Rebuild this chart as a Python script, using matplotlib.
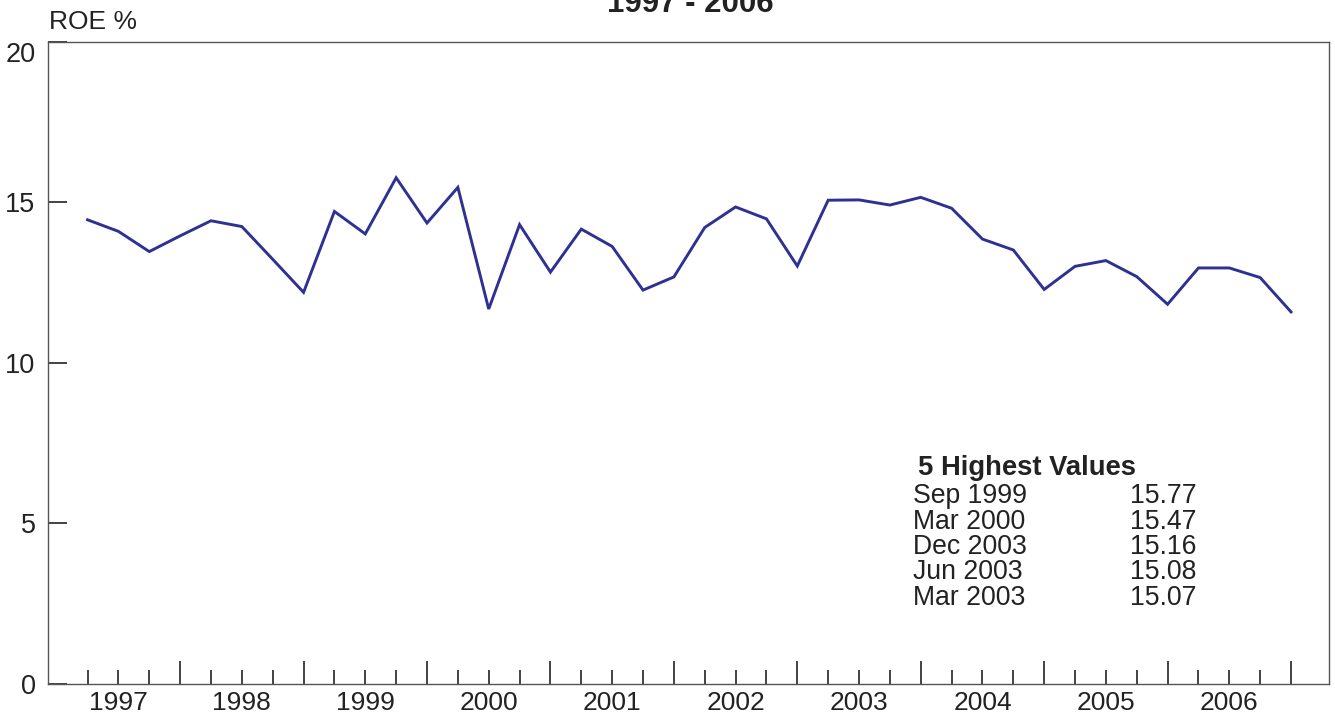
import matplotlib.pyplot as plt

# quarterly ROE, Mar 1997 .. Dec 2006
years = list(range(1997, 2007))
roe = [14.46, 14.10, 13.47, 13.96, 14.43, 14.25, 13.23, 12.20,
       14.72, 14.02, 15.77, 14.36, 15.47, 11.68, 14.31, 12.83,
       14.17, 13.63, 12.27, 12.68, 14.22, 14.86, 14.49, 13.02,
       15.07, 15.08, 14.92, 15.16, 14.82, 13.86, 13.52, 12.29,
       13.01, 13.19, 12.69, 11.83, 12.96, 12.96, 12.66, 11.59]

top_dates = ['Sep 1999', 'Mar 2000', 'Dec 2003', 'Jun 2003', 'Mar 2003']
top_values = ['15.77', '15.47', '15.16', '15.08', '15.07']

plt.rcParams['font.family'] = ['Liberation Sans', 'DejaVu Sans']

fig = plt.figure(figsize=(13.35, 7.15), dpi=100)
ax = fig.add_axes([0.036, 0.0434, 0.9595, 0.8979])

x = list(range(len(roe)))
ax.plot(x, roe, color='#2e3192', linewidth=2.1, solid_joinstyle='miter')

ax.set_xlim(-1.28, 40.23)
ax.set_ylim(0, 20)

# year end ticks tall, other quarters short, year label on the 2nd quarter
major = [i for i in x if i % 4 == 3]
minor = [i for i in x if i % 4 != 3]
ax.set_xticks(major, labels=[''] * len(major))
minor_labels = [str(years[i // 4]) if i % 4 == 1 else '' for i in minor]
ax.set_xticks(minor, labels=minor_labels, minor=True)
ax.tick_params(axis='x', which='major', direction='in', length=16.5, width=1.2, color='#222222')
ax.tick_params(axis='x', which='minor', direction='in', length=10, width=1.2, color='#222222',
               labelsize=19, pad=5, labelcolor='#222222')

ax.set_yticks([0, 5, 10, 15, 20])
ax.tick_params(axis='y', direction='in', length=14, width=1.2, color='#222222',
               labelsize=19.5, pad=9, labelcolor='#222222')
ax.get_yticklabels()[-1].set_va('top')

for s in ax.spines.values():
    s.set_color('#555555')
    s.set_linewidth(1.0)

ax.text(0.001, 1.013, 'ROE %', transform=ax.transAxes, fontsize=19,
        color='#222222', ha='left', va='bottom')

fig.text(0.517, 0.983, '1997 - 2006', fontsize=22.5, fontweight='bold',
         ha='center', va='baseline', color='#222222')

# table of the highest values
fig.text(0.6875, 0.345, '5 Highest Values', fontsize=19.7,
         fontweight='bold', ha='left', va='center', color='#222222')
for k, (d, v) in enumerate(zip(top_dates, top_values)):
    yy = 0.306 - k * 0.0355
    fig.text(0.684, yy, d, fontsize=19.2, ha='left', va='center', color='#222222')
    fig.text(0.896, yy, v, fontsize=19.2, ha='right', va='center', color='#222222')

plt.savefig('out.png', dpi=100)
